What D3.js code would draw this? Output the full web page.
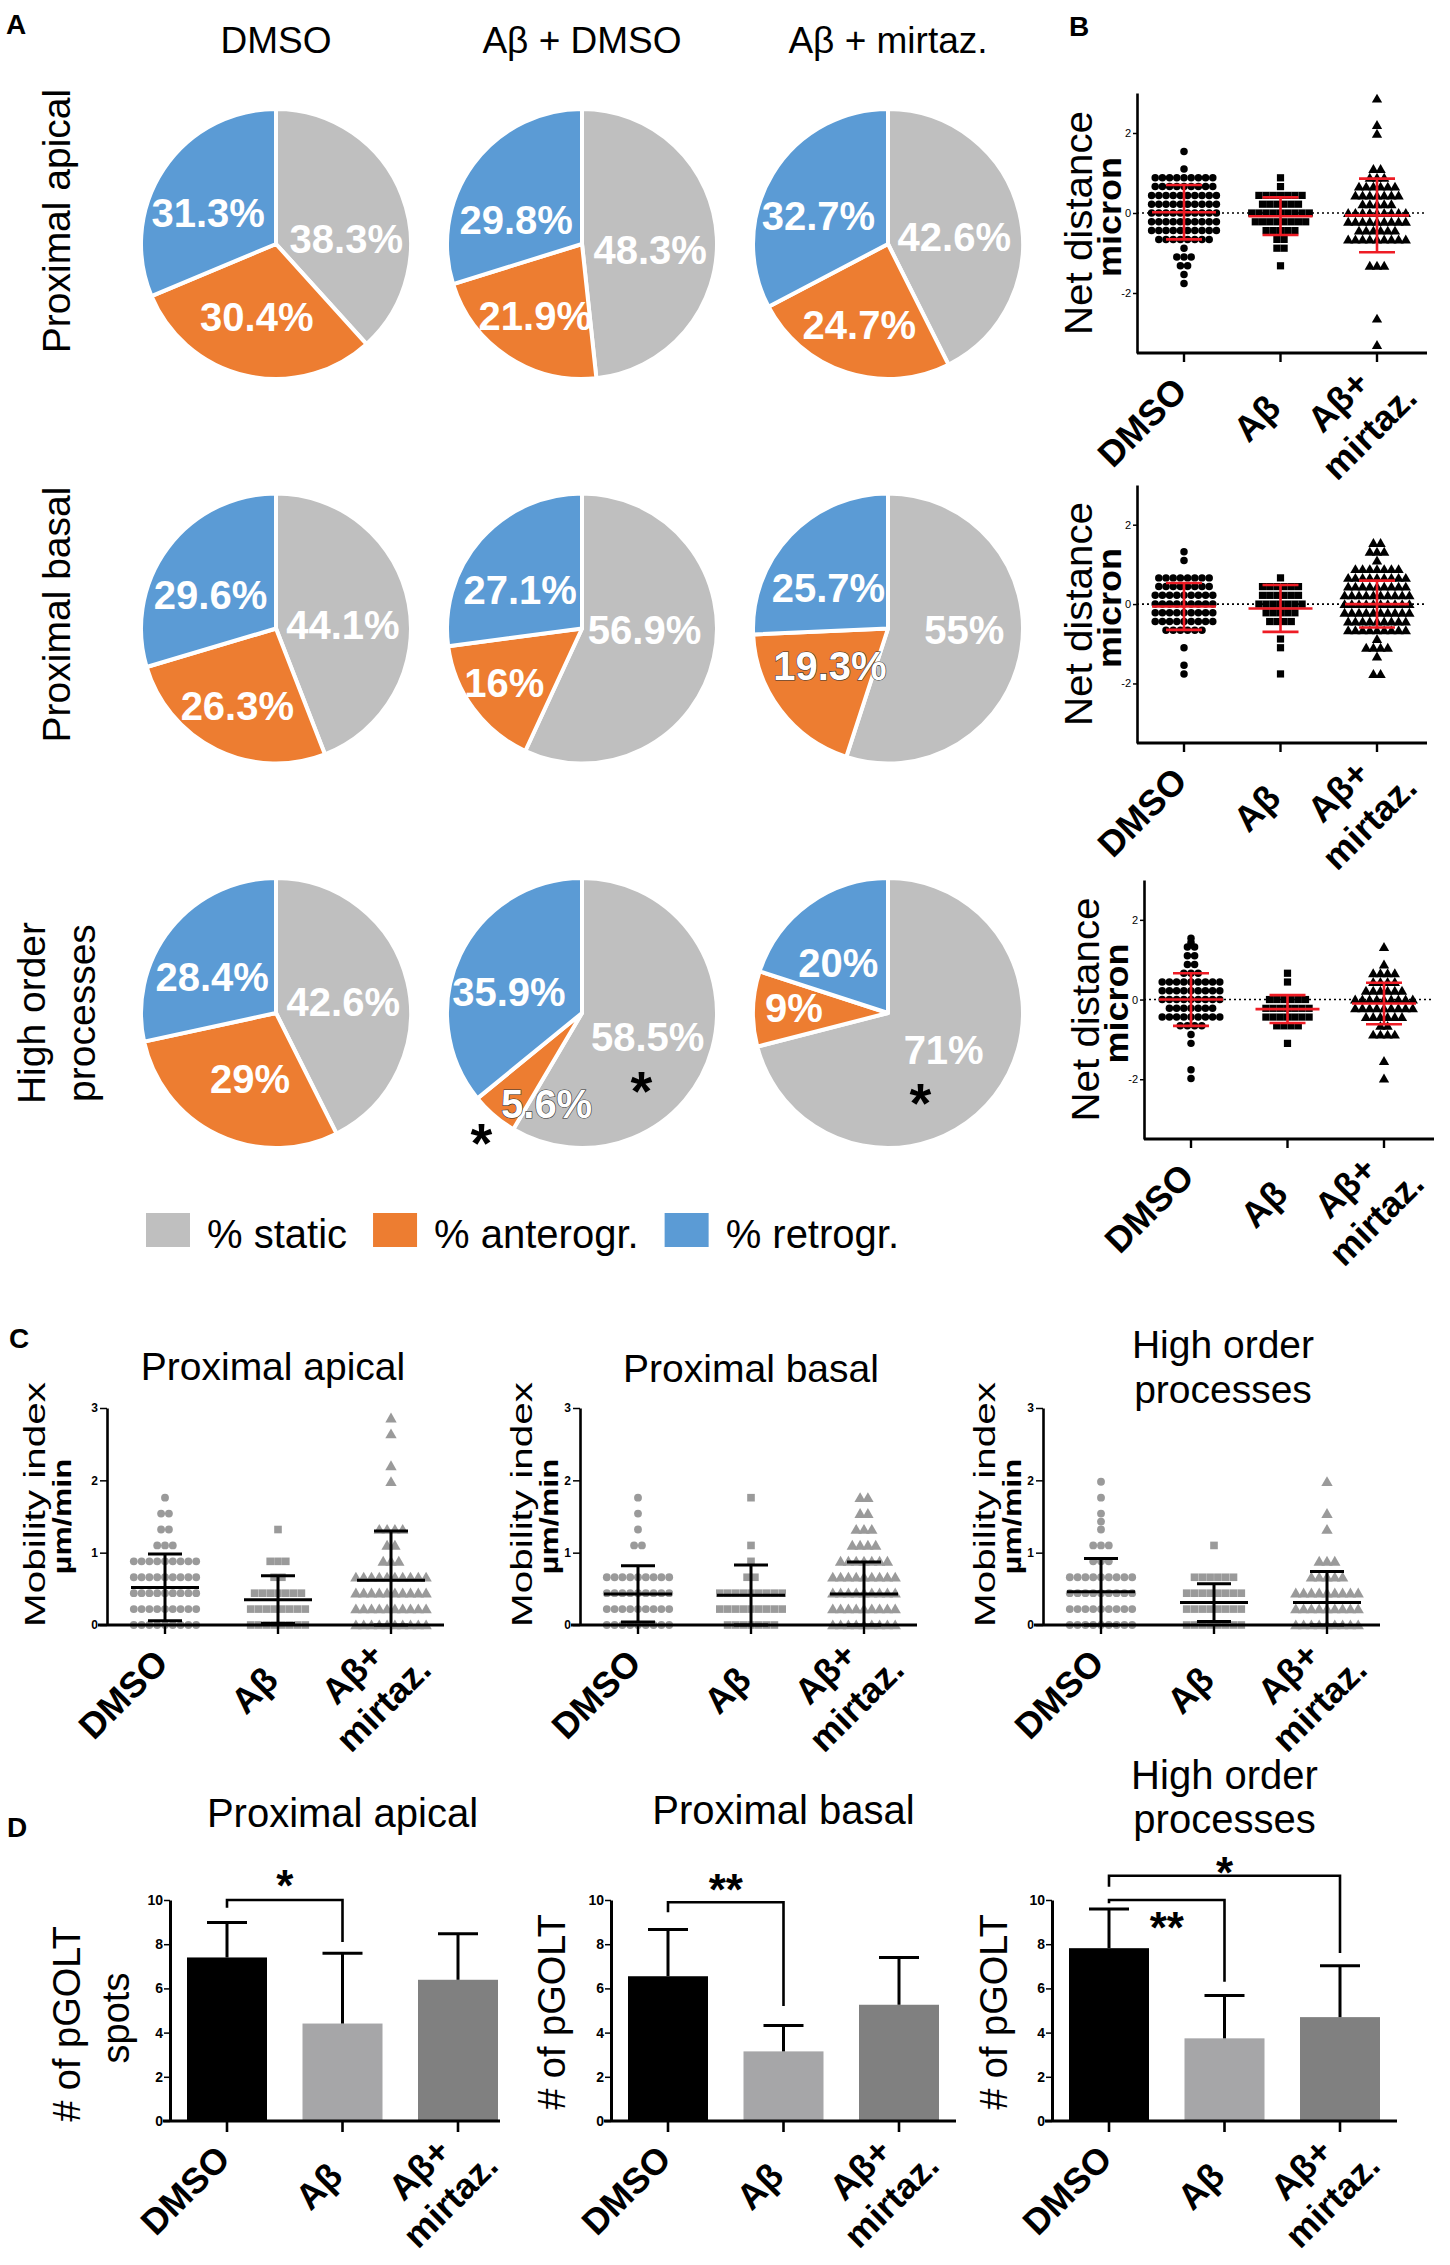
<!DOCTYPE html>
<html>
<head>
<meta charset="utf-8">
<script src="https://cdn.jsdelivr.net/npm/d3@7"></script>
<style>
html,body{margin:0;padding:0;background:#fff;}
svg text{font-family:"Liberation Sans",Arial,Helvetica,sans-serif;fill:#000;}
</style>
</head>
<body>
<svg id="fig" width="1450" height="2265" xmlns="http://www.w3.org/2000/svg"></svg>
<script>
// ================= DATA =================
const groupNames = ["DMSO", "Aβ", "Aβ+ mirtaz."];
const groupLabelLines = [["DMSO"], ["Aβ"], ["Aβ+", "mirtaz."]];
const regionTitles = [["Proximal apical"], ["Proximal basal"], ["High order", "processes"]];

// Panel A – pies
const pieColumns = ["DMSO", "Aβ + DMSO", "Aβ + mirtaz."];
const pieRowLabels = [["Proximal apical"], ["Proximal basal"], ["High order", "processes"]];
const motionTypes = ["% static", "% anterogr.", "% retrogr."];
const motionColors = ["#BFBFBF", "#ED7D31", "#5B9BD5"];
const pctStatic      = [[38.3, 48.3, 42.6], [44.1, 56.9, 55], [42.6, 58.5, 71]];
const pctAnterograde = [[30.4, 21.9, 24.7], [26.3, 16, 19.3], [29, 5.6, 9]];
const pctRetrograde  = [[31.3, 29.8, 32.7], [29.6, 27.1, 25.7], [28.4, 35.9, 20]];
const pieStars = [[2, 1, 220, 1.16], [2, 1, 139, 0.67], [2, 2, 158, 0.64]]; // row, col, angle°, radius fraction
const outlinedLabels = [[1, 2, 1], [2, 1, 1]];   // row, col, slice
// label position tweaks: row, col, slice, dx, dy
const labelNudges = [[0,0,0,7,11],[0,0,1,3,-10],[0,1,2,0,10],[1,1,0,-4,-25],[1,1,1,-12,0],[1,2,0,9,-21],[1,2,1,7,-18],
  [2,0,0,1,-4],[2,0,1,12,-11],[2,1,0,0,-6],[2,1,1,19,24],[2,2,0,3,-19],[2,2,1,-14,-13]];

// Panel B – net distance (micron): [value, number of points] per group
const netApical = [
  [[1.54,1],[1.1,1],[0.88,9],[0.66,9],[0.44,10],[0.22,10],[0,10],[-0.22,10],[-0.44,10],[-0.66,8],[-0.88,1],[-1.1,3],[-1.32,2],[-1.54,1],[-1.76,1]],
  [[0.88,1],[0.66,1],[0.44,7],[0.22,6],[0,9],[-0.22,8],[-0.44,5],[-0.66,2],[-0.88,2],[-1.32,1]],
  [[2.86,1],[2.2,1],[1.98,1],[1.1,2],[0.88,3],[0.66,6],[0.44,7],[0.22,5],[0,9],[-0.22,9],[-0.44,6],[-0.66,9],[-1.32,3],[-2.64,1],[-3.3,1]]
];
const netApicalMean = [0.02, -0.08, -0.06];
const netApicalSD = [0.68, 0.47, 0.92];
const netBasal = [
  [[1.32,1],[1.1,1],[0.66,8],[0.44,8],[0.22,9],[0,9],[-0.22,9],[-0.44,9],[-0.66,6],[-1.1,1],[-1.54,1],[-1.76,1]],
  [[0.66,1],[0.44,6],[0.22,6],[0,7],[-0.22,5],[-0.44,4],[-0.88,1],[-1.1,1],[-1.76,1]],
  [[1.54,2],[1.32,3],[1.1,1],[0.88,7],[0.66,9],[0.44,9],[0.22,10],[0,10],[-0.22,10],[-0.44,9],[-0.66,9],[-0.88,1],[-1.1,4],[-1.32,1],[-1.76,2]]
];
const netBasalMean = [-0.06, -0.11, 0.0];
const netBasalSD = [0.59, 0.59, 0.59];
const netHigh = [
  [[1.54,1],[1.43,1],[1.32,2],[1.1,2],[0.88,2],[0.66,3],[0.44,9],[0.22,9],[0,9],[-0.22,7],[-0.44,9],[-0.66,4],[-0.88,1],[-1.1,1],[-1.76,1],[-1.98,1]],
  [[0.66,1],[0.44,1],[0,6],[-0.22,7],[-0.44,7],[-0.66,4],[-1.1,1]],
  [[1.32,1],[0.88,1],[0.66,4],[0.44,4],[0.22,6],[0,9],[-0.22,9],[-0.44,6],[-0.66,2],[-0.88,4],[-1.54,1],[-1.98,1]]
];
const netHighMean = [0.0, -0.24, -0.1];
const netHighSD = [0.66, 0.35, 0.52];
const netTicks = [-2, 0, 2];

// Panel C – mobility index (µm/min)
const mobApical = [
  [[1.76,1],[1.54,2],[1.32,2],[1.1,3],[0.88,9],[0.66,9],[0.44,9],[0.22,9],[0,9]],
  [[1.32,1],[0.88,3],[0.66,2],[0.44,7],[0.22,8],[0,8]],
  [[2.86,1],[2.64,1],[2.2,1],[1.98,1],[1.32,4],[1.1,2],[0.88,3],[0.66,10],[0.44,10],[0.22,10],[0,10]]
];
const mobApicalMean = [0.52, 0.35, 0.62];
const mobApicalSD = [0.46, 0.33, 0.68];
const mobBasal = [
  [[1.76,1],[1.54,1],[1.32,1],[1.1,2],[0.66,9],[0.44,9],[0.22,9],[0,9]],
  [[1.76,1],[1.1,1],[0.88,1],[0.66,2],[0.44,9],[0.22,9],[0,7]],
  [[1.76,2],[1.54,2],[1.32,3],[1.1,4],[0.88,7],[0.66,9],[0.44,9],[0.22,9],[0,9]]
];
const mobBasalMean = [0.43, 0.41, 0.43];
const mobBasalSD = [0.39, 0.42, 0.44];
const mobHigh = [
  [[1.98,1],[1.76,1],[1.54,1],[1.43,1],[1.32,1],[1.1,3],[0.88,3],[0.66,9],[0.44,9],[0.22,9],[0,9]],
  [[1.1,1],[0.66,6],[0.44,8],[0.22,8],[0,8]],
  [[1.98,1],[1.54,1],[1.32,1],[0.88,3],[0.66,5],[0.44,9],[0.22,9],[0,9]]
];
const mobHighMean = [0.46, 0.31, 0.31];
const mobHighSD = [0.46, 0.26, 0.43];
const mobTicks = [0, 1, 2, 3];

// Panel D – # of pGOLT spots (mean, SD)
const pgoltApicalMean = [7.4, 4.41, 6.39];
const pgoltApicalSD = [1.58, 3.18, 2.08];
const pgoltBasalMean = [6.55, 3.15, 5.26];
const pgoltBasalSD = [2.12, 1.17, 2.14];
const pgoltHighMean = [7.82, 3.74, 4.7];
const pgoltHighSD = [1.77, 1.94, 2.32];
const pgoltTicks = [0, 2, 4, 6, 8, 10];
const barColors = ["#000000", "#A6A6A8", "#808080"];
// brackets: from group, to group, bracket level, left leg end, right leg end, label, label level
const sigApical = [[0, 1, 10, 9.65, 8.1, "*", 11.0]];
const sigBasal = [[0, 1, 9.9, 9.45, 5.2, "**", 10.8]];
const sigHigh = [[0, 1, 10.0, 9.85, 6.3, "**", 9.1], [0, 2, 11.1, 10.6, 7.6, "*", 11.6]];

// ================= DRAWING =================
const svg = d3.select('#fig');
function addText(parent, s, attrs) {
  const t = parent.append('text').text(s);
  for (const k in attrs) t.attr(k, attrs[k]);
  return t;
}
function star(parent, cx, cy, s, fs) {
  return addText(parent, s, {x: cx, y: cy + 0.52 * fs, 'text-anchor': 'middle', 'font-size': fs, 'font-weight': 'bold'});
}

// panel letters
addText(svg, 'A', {x: 6, y: 34, 'font-size': 28, 'font-weight': 'bold'});
addText(svg, 'B', {x: 1069, y: 36, 'font-size': 28, 'font-weight': 'bold'});
addText(svg, 'C', {x: 9, y: 1348, 'font-size': 28, 'font-weight': 'bold'});
addText(svg, 'D', {x: 7, y: 1837, 'font-size': 28, 'font-weight': 'bold'});

// ---------- Panel A ----------
const R = 135;
const pieX = d3.scalePoint().domain(pieColumns).range([276, 888]);
const pieY = d3.scalePoint().domain([0, 1, 2]).range([244, 1013]);
const rowLabelShift = [-23, -14, 0];
const pieGen = d3.pie().sort(null).value(d => d.value);
const arcGen = d3.arc().innerRadius(0).outerRadius(R);
const lblArc = d3.arc().innerRadius(R * 0.55).outerRadius(R * 0.55);
const gA = svg.append('g');
pieColumns.forEach(col => addText(gA, col, {x: pieX(col), y: 53, 'text-anchor': 'middle', 'font-size': 37}));
pieRowLabels.forEach((lines, r) => {
  lines.forEach((t, j) => {
    const bx = 70 - (lines.length - 1) * 25 + j * 50;
    addText(gA, t, {transform: `translate(${bx},${pieY(r) + rowLabelShift[r]}) rotate(-90)`, 'text-anchor': 'middle', 'font-size': 39});
  });
  pieColumns.forEach((col, c) => {
    const slices = [pctStatic[r][c], pctAnterograde[r][c], pctRetrograde[r][c]].map((v, k) => ({value: v, k}));
    const arcs = pieGen(slices);
    const pg = gA.append('g').attr('transform', `translate(${pieX(col)},${pieY(r)})`);
    pg.selectAll('path').data(arcs).join('path')
      .attr('d', arcGen).attr('fill', d => motionColors[d.data.k])
      .attr('stroke', '#fff').attr('stroke-width', 4).attr('stroke-linejoin', 'round');
    arcs.forEach(a => {
      let [lx, ly] = lblArc.centroid(a);
      lx -= 6; ly += 10;
      labelNudges.forEach(n => { if (n[0] === r && n[1] === c && n[2] === a.data.k) { lx += n[3]; ly += n[4]; } });
      const outl = outlinedLabels.some(o => o[0] === r && o[1] === c && o[2] === a.data.k);
      const t = addText(pg, a.data.value + '%', {x: lx, y: ly + 0.36 * 40, 'text-anchor': 'middle', 'font-size': 40, 'font-weight': 'bold'})
        .style('fill', '#fff');
      if (outl) t.attr('stroke', '#333').attr('stroke-width', 1.2).attr('paint-order', 'stroke');
    });
  });
});
pieStars.forEach(([r, c, ang, f]) => {
  const rad = ang * Math.PI / 180;
  star(gA, pieX(pieColumns[c]) + f * R * Math.sin(rad), pieY(r) - f * R * Math.cos(rad), '*', 56);
});
// legend
{
  let lx = 146;
  motionTypes.forEach((m, i) => {
    gA.append('rect').attr('x', lx).attr('y', 1213).attr('width', 44).attr('height', 34).attr('fill', motionColors[i]);
    const t = addText(gA, m, {x: lx + 61, y: 1248, 'font-size': 40});
    lx += 61 + t.node().getComputedTextLength() + 26;
  });
}

// ---------- shared helpers ----------
const labelNudge = [[5, 40], [2, 57], [-30, 57]];
function groupTickLabels(g, x, axisY, fs) {
  groupNames.forEach((name, i) => {
    const lines = groupLabelLines[i];
    const n = labelNudge[i];
    const gg = g.append('g').attr('transform', `translate(${x(name) + n[0]},${axisY + n[1]}) rotate(-45)`);
    lines.forEach((t, j) => addText(gg, t, {
      y: j * fs * 1.22, 'text-anchor': lines.length === 1 ? 'end' : 'middle',
      'font-size': fs, 'font-weight': 'bold'}));
  });
}
function yTitle(g, lines, cx, cy) {
  lines.forEach(l => {
    const t = addText(g, l.text, {transform: `translate(${cx + l.dx},${cy + (l.dy || 0)}) rotate(-90)`,
      'text-anchor': 'middle', 'font-size': l.fs, 'font-weight': l.bold ? 'bold' : 'normal'});
    if (l.len) t.attr('textLength', l.len).attr('lengthAdjust', 'spacingAndGlyphs');
  });
}

function dotPlot(o) {
  const g = svg.append('g');
  const y = d3.scaleLinear().domain(o.domain).range([o.yBot, o.yTop]).clamp(true);
  const x = d3.scalePoint().domain(groupNames).range([o.x0 + o.offs[0], o.x0 + o.offs[1]]);
  const axisY = y(o.baseValue);
  if (o.zeroLine) {
    g.append('line').attr('x1', o.x0).attr('x2', o.x0 + o.width).attr('y1', y(0)).attr('y2', y(0))
      .attr('stroke', '#000').attr('stroke-width', 1.6).attr('stroke-dasharray', '2,3');
  }
  const shapes = [d3.symbolCircle, d3.symbolSquare, d3.symbolTriangle];
  o.rows.forEach((grp, gi) => {
    const sym = d3.symbol().type(shapes[gi]).size(o.sizes[gi]);
    grp.forEach(([v, n]) => {
      for (let k = 0; k < n; k++) {
        const px = x(groupNames[gi]) + (k - (n - 1) / 2) * o.spacing;
        g.append('path').attr('d', sym).attr('transform', `translate(${px},${y(v) + (gi === 2 ? 1 : 0)})`).attr('fill', o.markerColor);
      }
    });
  });
  o.means.forEach((m, gi) => {
    const cx = x(groupNames[gi]);
    const s = o.sds[gi];
    const ln = (x1, y1, x2, y2) => g.append('line').attr('x1', x1).attr('y1', y1).attr('x2', x2).attr('y2', y2)
      .attr('stroke', o.barColor).attr('stroke-width', o.barWidth);
    ln(cx, y(m + s), cx, y(m - s));
    ln(cx - o.meanHalf, y(m), cx + o.meanHalf, y(m));
    ln(cx - o.capHalf, y(m + s), cx + o.capHalf, y(m + s));
    ln(cx - o.capHalf, y(m - s), cx + o.capHalf, y(m - s));
  });
  const ya = g.append('g').attr('transform', `translate(${o.x0},0)`)
    .call(d3.axisLeft(y).tickValues(o.ticks).tickSize(o.tickSize).tickSizeOuter(0).tickPadding(2).tickFormat(d => String(d)));
  ya.select('.domain').attr('stroke-width', 2.6);
  ya.selectAll('.tick line').attr('stroke-width', 1.5);
  ya.selectAll('.tick text').attr('font-size', o.tickFont).attr('font-weight', o.tickBold ? 'bold' : 'normal')
    .attr('font-family', '"Liberation Sans",Arial,sans-serif');
  g.append('line').attr('x1', o.x0 - o.xAxisExt).attr('x2', o.x0 + o.width).attr('y1', axisY).attr('y2', axisY)
    .attr('stroke', '#000').attr('stroke-width', 2.8);
  groupNames.forEach(nm => g.append('line').attr('x1', x(nm)).attr('x2', x(nm)).attr('y1', axisY).attr('y2', axisY + 9)
    .attr('stroke', '#000').attr('stroke-width', 2.4));
  groupTickLabels(g, x, axisY, 36);
  yTitle(g, o.yTitle, o.x0, (o.yTop + o.yBot) / 2);
  if (o.title) o.title.forEach((t, j) => addText(g, t, {x: x(groupNames[1]) + (o.titleDx || 0), y: o.titleY + j * 45, 'text-anchor': 'middle', 'font-size': 39}));
}

// ---------- Panel B ----------
const netTitle = [{text: 'Net distance', dx: -45, fs: 38, len: 224}, {text: 'micron', dx: -16, dy: -6, fs: 33, bold: true, len: 120}];
const bCommon = {domain: [-3.5, 3], baseValue: -3.5, width: 290, offs: [47, 240], ticks: netTicks, tickSize: 4, tickFont: 11,
  tickBold: false, markerColor: '#000', barColor: '#EE1C25', barWidth: 2.6, meanHalf: 32, capHalf: 18, spacing: 7.2,
  sizes: [44, 52, 46], zeroLine: true, xAxisExt: 0, yTitle: netTitle};
dotPlot({...bCommon, x0: 1137, yTop: 93, yBot: 353, rows: netApical, means: netApicalMean, sds: netApicalSD});
dotPlot({...bCommon, x0: 1137, yTop: 485, yBot: 743, rows: netBasal, means: netBasalMean, sds: netBasalSD});
dotPlot({...bCommon, x0: 1144, yTop: 880, yBot: 1139, rows: netHigh, means: netHighMean, sds: netHighSD});

// ---------- Panel C ----------
const mobTitle = (shift) => [{text: 'Mobility index', dx: -48 + shift, dy: -12, fs: 30, len: 245},
  {text: 'µm/min', dx: -22 + shift, fs: 26, bold: true, len: 116}];
const cCommon = {domain: [0, 3], baseValue: 0, width: 337, offs: [58, 284], ticks: mobTicks, tickSize: 7, tickFont: 12,
  tickBold: true, markerColor: '#9A9A9A', barColor: '#000', barWidth: 3, meanHalf: 34, capHalf: 17, spacing: 7.8,
  sizes: [48, 58, 56], zeroLine: false, xAxisExt: 9, yTop: 1408, yBot: 1625};
dotPlot({...cCommon, x0: 107, rows: mobApical, means: mobApicalMean, sds: mobApicalSD, yTitle: mobTitle(-14),
  title: regionTitles[0], titleY: 1380, titleDx: -5});
dotPlot({...cCommon, x0: 580, rows: mobBasal, means: mobBasalMean, sds: mobBasalSD, yTitle: mobTitle(0),
  title: regionTitles[1], titleY: 1382});
dotPlot({...cCommon, x0: 1043, rows: mobHigh, means: mobHighMean, sds: mobHighSD, yTitle: mobTitle(0),
  title: regionTitles[2], titleY: 1358, titleDx: 9});

// ---------- Panel D ----------
function barChart(o) {
  const g = svg.append('g');
  const y = d3.scaleLinear().domain([0, 10]).range([2121, 1900]);
  const x = d3.scalePoint().domain(groupNames).range([o.x0 + 57, o.x0 + 288]);
  const bw = 80;
  o.means.forEach((m, i) => {
    const cx = x(groupNames[i]);
    g.append('rect').attr('x', cx - bw / 2).attr('y', y(m)).attr('width', bw).attr('height', y(0) - y(m)).attr('fill', barColors[i]);
    g.append('line').attr('x1', cx).attr('x2', cx).attr('y1', y(m)).attr('y2', y(m + o.sds[i])).attr('stroke', '#000').attr('stroke-width', 3);
    g.append('line').attr('x1', cx - 20).attr('x2', cx + 20).attr('y1', y(m + o.sds[i])).attr('y2', y(m + o.sds[i])).attr('stroke', '#000').attr('stroke-width', 3);
  });
  const ya = g.append('g').attr('transform', `translate(${o.x0},0)`)
    .call(d3.axisLeft(y).tickValues(pgoltTicks).tickSize(6).tickSizeOuter(0).tickPadding(1).tickFormat(d => String(d)));
  ya.select('.domain').attr('stroke-width', 3);
  ya.selectAll('.tick line').attr('stroke-width', 1.5);
  ya.selectAll('.tick text').attr('font-size', 14).attr('font-weight', 'bold').attr('font-family', '"Liberation Sans",Arial,sans-serif');
  g.append('line').attr('x1', o.x0 - 7).attr('x2', o.x0 + o.width).attr('y1', y(0)).attr('y2', y(0)).attr('stroke', '#000').attr('stroke-width', 3.2);
  groupNames.forEach(nm => g.append('line').attr('x1', x(nm)).attr('x2', x(nm)).attr('y1', y(0)).attr('y2', y(0) + 11)
    .attr('stroke', '#000').attr('stroke-width', 2.6));
  o.sig.forEach(([a, b, lev, l1, l2, s, sy]) => {
    const xa = x(groupNames[a]), xb = x(groupNames[b]);
    g.append('path').attr('d', `M${xa},${y(l1)}V${y(lev)}H${xb}V${y(l2)}`).attr('fill', 'none').attr('stroke', '#000').attr('stroke-width', 2.6);
    star(g, (xa + xb) / 2, y(sy), s, 44);
  });
  groupTickLabels(g, x, y(0), 36);
  yTitle(g, o.yTitle, o.x0, 2012);
  o.title.forEach((t, j) => addText(g, t, {x: x(groupNames[1]), y: o.titleY + j * 44, 'text-anchor': 'middle', 'font-size': 40}));
}
barChart({x0: 170, width: 330, means: pgoltApicalMean, sds: pgoltApicalSD, sig: sigApical, title: regionTitles[0], titleY: 1827,
  yTitle: [{text: '# of pGOLT', dx: -90, dy: 12, fs: 38}, {text: 'spots', dx: -41, dy: 6, fs: 38}]});
barChart({x0: 611, width: 345, means: pgoltBasalMean, sds: pgoltBasalSD, sig: sigBasal, title: regionTitles[1], titleY: 1824,
  yTitle: [{text: '# of pGOLT', dx: -46, fs: 38}]});
barChart({x0: 1052, width: 345, means: pgoltHighMean, sds: pgoltHighSD, sig: sigHigh, title: regionTitles[2], titleY: 1789,
  yTitle: [{text: '# of pGOLT', dx: -45, fs: 38}]});
</script>
</body>
</html>
